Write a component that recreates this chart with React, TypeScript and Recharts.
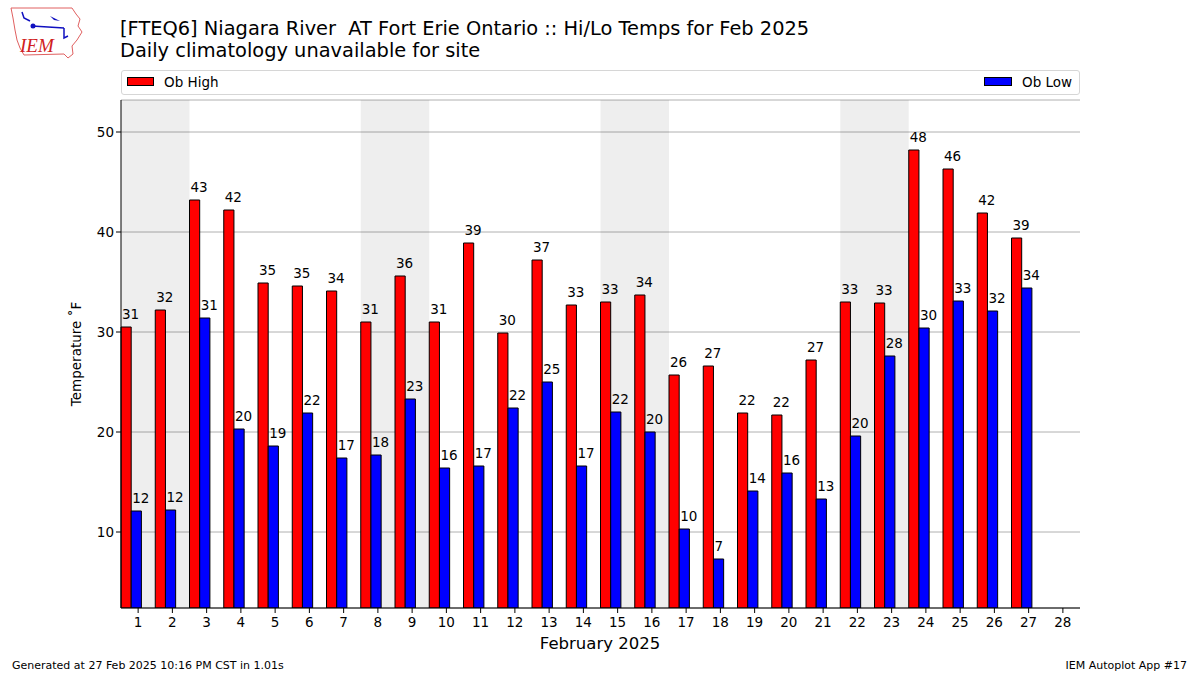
import React from "react"
import {
  BarChart,
  Bar,
  XAxis,
  YAxis,
  CartesianGrid,
  ReferenceArea,
  LabelList,
} from "recharts"

const days = [1, 2, 3, 4, 5, 6, 7, 8, 9, 10, 11, 12, 13, 14, 15, 16, 17, 18, 19, 20, 21, 22, 23, 24, 25, 26, 27, 28]
const obHigh = [
  30.5, 32.2, 43.2, 42.2, 34.9, 34.6, 34.1, 31.0, 35.6, 31.0, 38.9, 29.9, 37.2, 32.7,
  33.0, 33.7, 25.7, 26.6, 21.9, 21.7, 27.2, 33.0, 32.9, 48.2, 46.3, 41.9, 39.4, null,
]
const obLow = [
  12.1, 12.2, 31.4, 20.3, 18.6, 21.9, 17.4, 17.7, 23.3, 16.4, 16.6, 22.4, 25.0, 16.6,
  22.0, 20.0, 10.3, 7.3, 14.1, 15.9, 13.3, 19.6, 27.6, 30.4, 33.1, 32.1, 34.4, null,
]
const weekends = [
  [1, 2],
  [8, 9],
  [15, 16],
  [22, 23],
]
const yTicks = [10, 20, 30, 40, 50]
const yDomain = [2.4, 53.2]

const FONT = "'DejaVu Sans', sans-serif"

const chartData = days.map((d, i) => ({ day: d, high: obHigh[i], low: obLow[i] }))

function ValueLabel(props: any) {
  const { x, y, value } = props
  if (value === null || value === undefined) return null
  return (
    <text x={Number(x) + 1} y={Number(y) - 8} fontSize={13.5} fill="#000" fontFamily={FONT}>
      {Math.round(value)}
    </text>
  )
}

function YLabel() {
  return (
    <text
      x={76}
      y={354}
      transform="rotate(-90, 76, 354)"
      textAnchor="middle"
      dominantBaseline="central"
      fontSize={13.5}
      fontFamily={FONT}
      fill="#000"
    >
      Temperature ˚F
    </text>
  )
}

function XLabel() {
  return (
    <text x={600} y={643} textAnchor="middle" dominantBaseline="central" fontSize={16.5} fontFamily={FONT} fill="#000">
      February 2025
    </text>
  )
}

function Logo() {
  return (
    <svg width={82} height={60} style={{ position: "absolute", left: 6, top: 2 }}>
      <path
        d="M5 6 L66 6 L70 12 L74 17 L72 24 L76 30 L71 38 L66 44 L67 52 L62 56 L58 52 L18 53 L14 46 L11 38 L9 28 L7 16 Z"
        fill="none"
        stroke="#e06060"
        strokeWidth={1}
      />
      <path d="M16 10 L18 16 L24 19" fill="none" stroke="#1010c0" strokeWidth={1.5} />
      <line x1={26} x2={58} y1={24} y2={26} stroke="#1010c0" strokeWidth={1.5} />
      <circle cx={27} cy={24} r={2.5} fill="#1010c0" />
      <path d="M44 14 L54 19 L60 20 L48 18 Z" fill="#1010c0" />
      <path d="M58 26 L58 36 L62 34" fill="none" stroke="#1010c0" strokeWidth={1.5} />
      <text x={14} y={50} fontSize={19} fontStyle="italic" fontFamily="'Liberation Serif', serif" fill="#d02020">
        IEM
      </text>
    </svg>
  )
}

export default function App() {
  return (
    <div style={{ position: "absolute", left: 0, top: 0, width: 1200, height: 675, background: "#fff", fontFamily: FONT }}>
      <Logo />
      <div style={{ position: "absolute", left: 120, top: 18, fontSize: 19.4, whiteSpace: "pre", lineHeight: "22px", color: "#000" }}>
        {"[FTEQ6] Niagara River  AT Fort Erie Ontario :: Hi/Lo Temps for Feb 2025"}
        <br />
        {"Daily climatology unavailable for site"}
      </div>

      <div
        style={{
          position: "absolute",
          left: 121,
          top: 70,
          width: 959,
          height: 25,
          boxSizing: "border-box",
          border: "1px solid #d6d6d6",
          borderRadius: 3,
          fontSize: 13.5,
        }}
      >
        <div style={{ position: "absolute", left: 5, top: 6, width: 27, height: 9, background: "#ff0000", border: "1px solid #000", boxSizing: "border-box" }} />
        <div style={{ position: "absolute", left: 42, top: 3, lineHeight: "16px" }}>Ob High</div>
        <div style={{ position: "absolute", left: 862, top: 6, width: 28, height: 9, background: "#0000ff", border: "1px solid #000", boxSizing: "border-box" }} />
        <div style={{ position: "absolute", left: 900, top: 3, lineHeight: "16px" }}>Ob Low</div>
      </div>

      <div style={{ position: "absolute", left: 0, top: 0 }}>
        <BarChart
          width={1200}
          height={675}
          data={chartData}
          margin={{ top: 100, right: 120, bottom: 37, left: 61 }}
          barGap={0}
          barCategoryGap={0}
        >
          <CartesianGrid vertical={false} stroke="#b0b0b0" strokeWidth={1} />
          {weekends.map(([a, b]) => (
            <ReferenceArea key={`we-${a}`} x1={a} x2={b} y1={yDomain[0]} y2={yDomain[1]} fill="#000" fillOpacity={0.067} stroke="none" ifOverflow="hidden" />
          ))}
          <XAxis
            dataKey="day"
            type="category"
            padding={{ left: 0, right: 0 }}
            height={30}
            interval={0}
            tickSize={5}
            tickLine={{ stroke: "#000" }}
            axisLine={{ stroke: "#000" }}
            tick={{ fontSize: 13.5, fill: "#000", fontFamily: FONT, dy: 2 }}
            label={<XLabel />}
          />
          <XAxis xAxisId="top" dataKey="day" orientation="top" height={0} tick={false} tickLine={false} axisLine={{ stroke: "#000" }} />
          <YAxis
            type="number"
            domain={yDomain}
            allowDataOverflow
            ticks={yTicks}
            width={60}
            tickSize={5}
            tickLine={{ stroke: "#000" }}
            axisLine={{ stroke: "#000" }}
            tick={{ fontSize: 13.5, fill: "#000", fontFamily: FONT }}
            label={<YLabel />}
          />
          <YAxis yAxisId="right" orientation="right" type="number" domain={yDomain} allowDataOverflow width={0} tick={false} tickLine={false} axisLine={{ stroke: "#000" }} />
          <Bar dataKey="high" fill="#ff0000" stroke="#000" strokeWidth={1} barSize={10.2} isAnimationActive={false}>
            <LabelList dataKey="high" content={<ValueLabel />} />
          </Bar>
          <Bar dataKey="low" fill="#0000ff" stroke="#000" strokeWidth={1} barSize={10.2} isAnimationActive={false}>
            <LabelList dataKey="low" content={<ValueLabel />} />
          </Bar>
          <Bar dataKey="spacer" fill="none" barSize={13.6} isAnimationActive={false} />
        </BarChart>
      </div>

      <div style={{ position: "absolute", left: 12, top: 659, fontSize: 11, whiteSpace: "pre" }}>
        Generated at 27 Feb 2025 10:16 PM CST in 1.01s
      </div>
      <div style={{ position: "absolute", right: 13, top: 659, fontSize: 11, whiteSpace: "pre" }}>IEM Autoplot App #17</div>
    </div>
  )
}
